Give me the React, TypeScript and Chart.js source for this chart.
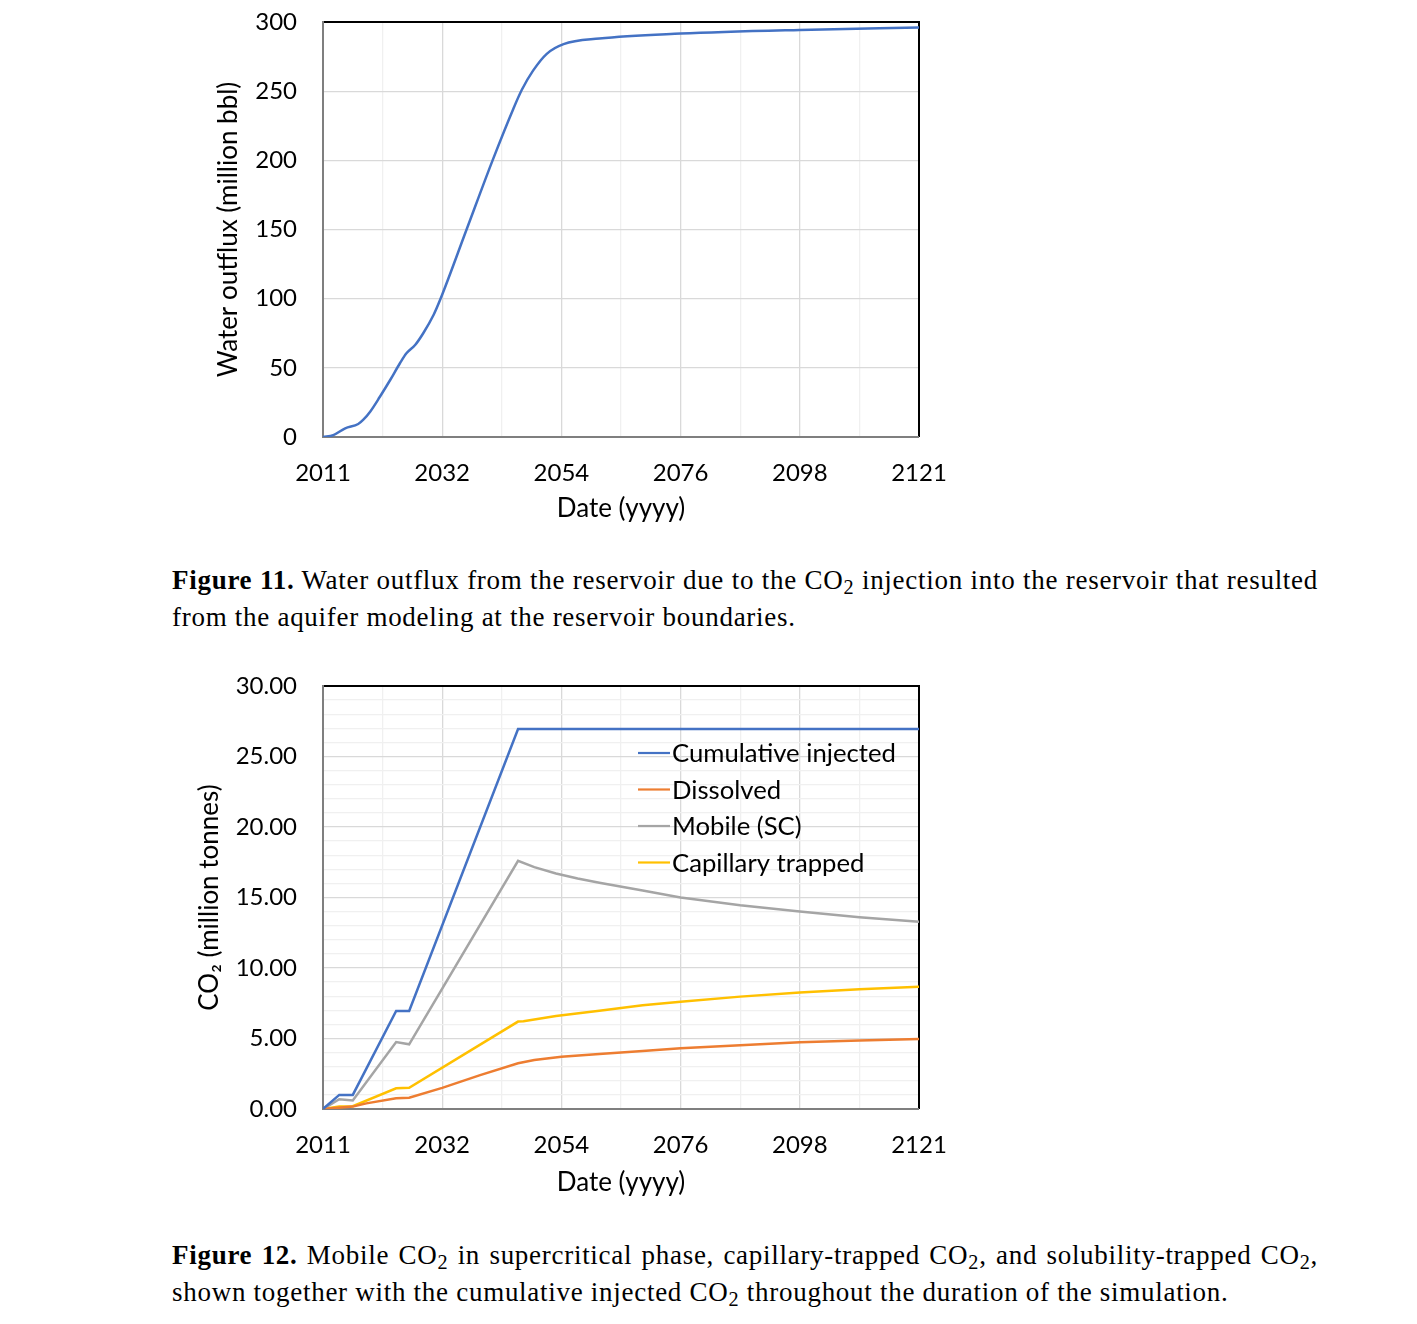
import React, { useEffect, useRef } from 'react';
import { Chart, registerables } from 'chart.js';

Chart.register(...registerables);

// ---------- data ----------
const xTickLabels = ['2011', '2032', '2054', '2076', '2098', '2121'];

const waterYears = [2011, 2012.9, 2015.1, 2017.5, 2018.4, 2019.7, 2021.5, 2023.4, 2025.2, 2026.4, 2028.0, 2029.5, 2031.4, 2032.6, 2037.5, 2042.3, 2046.1, 2047.7, 2049.8, 2052.3, 2055.4, 2062.0, 2077.0, 2099.0, 2121.0];
const waterOutflux = [0, 1.4, 6.3, 9.4, 12.3, 18.3, 29.1, 41.2, 53.3, 60.5, 66.5, 75.0, 88.2, 99.0, 150.0, 200.0, 237.0, 251.0, 265.0, 277.0, 284.0, 288.0, 291.6, 294.3, 296.0];

const co2SeriesNames = ['Cumulative injected', 'Dissolved', 'Mobile (SC)', 'Capillary trapped'];

const injectedYears = [2011, 2014.0, 2016.5, 2024.5, 2026.9, 2047.0, 2121.0];
const injectedValues = [0, 1.0, 1.0, 6.95, 6.95, 26.95, 26.95];

const dissolvedYears = [2011, 2016.5, 2019.0, 2024.5, 2026.9, 2033.0, 2040.0, 2047.0, 2050.0, 2055.0, 2062.0, 2070.0, 2077.0, 2088.0, 2099.0, 2110.0, 2121.0];
const dissolvedValues = [0, 0.17, 0.4, 0.76, 0.8, 1.5, 2.4, 3.24, 3.47, 3.7, 3.9, 4.12, 4.3, 4.52, 4.73, 4.86, 4.96];

const mobileYears = [2011, 2014.0, 2016.5, 2024.5, 2026.9, 2047.0, 2050.0, 2054.0, 2058.0, 2062.0, 2070.0, 2077.0, 2088.0, 2099.0, 2110.0, 2121.0];
const mobileValues = [0, 0.69, 0.6, 4.75, 4.59, 17.6, 17.15, 16.7, 16.35, 16.05, 15.5, 15.0, 14.45, 14.0, 13.6, 13.28];

const capillaryYears = [2011, 2014.0, 2016.5, 2024.5, 2026.9, 2047.0, 2048.0, 2054.0, 2062.0, 2070.0, 2077.0, 2088.0, 2099.0, 2110.0, 2121.0];
const capillaryValues = [0, 0.17, 0.2, 1.47, 1.51, 6.2, 6.22, 6.6, 6.97, 7.35, 7.61, 7.97, 8.27, 8.5, 8.67];

const co2Colors = ['#4472C4', '#ED7D31', '#A5A5A5', '#FFC000'];

// ---------- styling ----------
const FONT = 'Lato';
const MAJOR = '#d9d9d9';
const MINOR = '#f0f0f0';

function pairs(xs: number[], ys: number[]) {
  return xs.map((x, i) => ({ x, y: ys[i] }));
}

const framePlugin = {
  id: 'frame',
  beforeDatasetsDraw(chart: any) {
    const { ctx, chartArea: a } = chart;
    ctx.save();
    ctx.lineWidth = 2;
    ctx.strokeStyle = '#000';
    ctx.beginPath();
    ctx.moveTo(a.left, a.top);
    ctx.lineTo(a.right, a.top);
    ctx.lineTo(a.right, a.bottom);
    ctx.stroke();
    ctx.strokeStyle = '#7f7f7f';
    ctx.beginPath();
    ctx.moveTo(a.left, a.top - 1);
    ctx.lineTo(a.left, a.bottom);
    ctx.lineTo(a.right, a.bottom);
    ctx.stroke();
    ctx.restore();
  },
};

const legendPlugin = {
  id: 'insideLegend',
  afterDraw(chart: any) {
    const { ctx, chartArea: a } = chart;
    ctx.save();
    ctx.font = `25.7px ${FONT}`;
    ctx.textBaseline = 'middle';
    ctx.fillStyle = '#000';
    chart.data.datasets.forEach((ds: any, i: number) => {
      const y = a.top + 67 + i * 36.5;
      ctx.strokeStyle = ds.borderColor;
      ctx.lineWidth = 2.2;
      ctx.beginPath();
      ctx.moveTo(a.left + 315, y);
      ctx.lineTo(a.left + 347, y);
      ctx.stroke();
      ctx.fillText(ds.label, a.left + 349, y + 1);
    });
    ctx.restore();
  },
};

function xScale(height: number, titlePadBottom: number) {
  return {
    type: 'linear' as const,
    min: 2011,
    max: 2121,
    afterFit(scale: any) {
      scale.height = height;
      scale.paddingLeft = 0;
      scale.paddingRight = 0;
    },
    ticks: {
      stepSize: 11,
      autoSkip: false,
      maxRotation: 0,
      padding: 22,
      color: '#000',
      font: { family: FONT, size: 24 },
      callback: (_v: any, i: number) => (i % 2 === 0 ? xTickLabels[i / 2] : ''),
    },
    grid: {
      drawTicks: false,
      color: (c: any) => (c.index % 2 === 0 ? MAJOR : MINOR),
      lineWidth: 1.3,
    },
    border: { display: false },
    title: {
      display: true,
      text: 'Date (yyyy)',
      color: '#000',
      font: { family: FONT, size: 26 },
      padding: { top: 0, bottom: titlePadBottom },
    },
  };
}

function yFit(scale: any) {
  scale.width = 323;
  scale.paddingTop = 0;
  scale.paddingBottom = 0;
}

function WaterChart() {
  const ref = useRef<HTMLCanvasElement>(null);
  useEffect(() => {
    const chart = new Chart(ref.current!, {
      type: 'line',
      data: {
        datasets: [
          {
            label: 'Water outflux',
            data: pairs(waterYears, waterOutflux),
            borderColor: '#4472C4',
            borderWidth: 2.5,
            pointRadius: 0,
            cubicInterpolationMode: 'monotone',
            fill: false,
          },
        ],
      },
      options: {
        animation: false,
        responsive: false,
        layout: { padding: { left: 0, top: 22, right: 81, bottom: 0 } },
        plugins: { legend: { display: false }, tooltip: { enabled: false } },
        scales: {
          x: xScale(103, 15.4),
          y: {
            min: 0,
            max: 300,
            afterFit: yFit,
            ticks: {
              stepSize: 50,
              padding: 26,
              color: '#000',
              font: { family: FONT, size: 24 },
            },
            grid: { drawTicks: false, color: MAJOR, lineWidth: 1.3 },
            border: { display: false },
            title: {
              display: true,
              text: 'Water outflux (million bbl)',
              color: '#000',
              font: { family: FONT, size: 26 },
              padding: { top: 213.4, bottom: 0 },
            },
          },
        },
      },
      plugins: [framePlugin],
    });
    return () => chart.destroy();
  }, []);
  return (
    <canvas
      ref={ref}
      width={1000}
      height={540}
      style={{ position: 'absolute', left: 0, top: 0, width: 1000, height: 540 }}
    />
  );
}

function Co2Chart() {
  const ref = useRef<HTMLCanvasElement>(null);
  useEffect(() => {
    const seriesYears = [injectedYears, dissolvedYears, mobileYears, capillaryYears];
    const seriesValues = [injectedValues, dissolvedValues, mobileValues, capillaryValues];
    const chart = new Chart(ref.current!, {
      type: 'line',
      data: {
        datasets: co2SeriesNames.map((name, i) => ({
          label: name,
          data: pairs(seriesYears[i], seriesValues[i]),
          borderColor: co2Colors[i],
          borderWidth: 2.5,
          pointRadius: 0,
          tension: 0,
          fill: false,
        })),
      },
      options: {
        animation: false,
        responsive: false,
        layout: { padding: { left: 0, top: 36, right: 81, bottom: 0 } },
        plugins: { legend: { display: false }, tooltip: { enabled: false } },
        scales: {
          x: xScale(101, 11.4),
          y: {
            min: 0,
            max: 30,
            afterFit: yFit,
            ticks: {
              stepSize: 1,
              autoSkip: false,
              padding: 26,
              color: '#000',
              font: { family: FONT, size: 24 },
              callback: (v: any) => (Number(v) % 5 === 0 ? Number(v).toFixed(2) : ''),
            },
            grid: {
              drawTicks: false,
              color: (c: any) => (Number(c.tick?.value) % 5 === 0 ? MAJOR : MINOR),
              lineWidth: 1.3,
            },
            border: { display: false },
            title: {
              display: true,
              text: 'CO\u2082 (million tonnes)',
              color: '#000',
              font: { family: FONT, size: 26 },
              padding: { top: 194.4, bottom: 0 },
            },
          },
        },
      },
      plugins: [framePlugin, legendPlugin],
    });
    return () => chart.destroy();
  }, []);
  return (
    <canvas
      ref={ref}
      width={1000}
      height={560}
      style={{ position: 'absolute', left: 0, top: 650, width: 1000, height: 560 }}
    />
  );
}

const captionFont: React.CSSProperties = {
  fontFamily: '"Liberation Serif", serif',
  fontSize: 27,
  letterSpacing: '0.72px',
  lineHeight: '37px',
  color: '#000',
  whiteSpace: 'nowrap',
  position: 'absolute',
  left: 172,
  width: 1146,
};

function Caption({ top, first, second }: { top: number; first: React.ReactNode; second: React.ReactNode }) {
  return (
    <div style={{ ...captionFont, top }}>
      <div style={{ textAlign: 'justify', textAlignLast: 'justify' }}>{first}</div>
      <div style={{ textAlign: 'left' }}>{second}</div>
    </div>
  );
}

export default function App() {
  const sub = (t: string) => <sub style={{ fontSize: '0.75em', verticalAlign: '-0.25em', lineHeight: 0 }}>{t}</sub>;
  return (
    <div style={{ position: 'absolute', left: 0, top: 0, width: 1417, height: 1324, background: '#fff', overflow: 'hidden' }}>
      <WaterChart />
      <Caption
        top={562}
        first={
          <>
            <b>Figure 11.</b> Water outflux from the reservoir due to the CO{sub('2')} injection into the reservoir that resulted
          </>
        }
        second={<>from the aquifer modeling at the reservoir boundaries.</>}
      />
      <Co2Chart />
      <Caption
        top={1237}
        first={
          <>
            <b>Figure 12.</b> Mobile CO{sub('2')} in supercritical phase, capillary-trapped CO{sub('2')}, and solubility-trapped CO{sub('2')},
          </>
        }
        second={<>shown together with the cumulative injected CO{sub('2')} throughout the duration of the simulation.</>}
      />
    </div>
  );
}
